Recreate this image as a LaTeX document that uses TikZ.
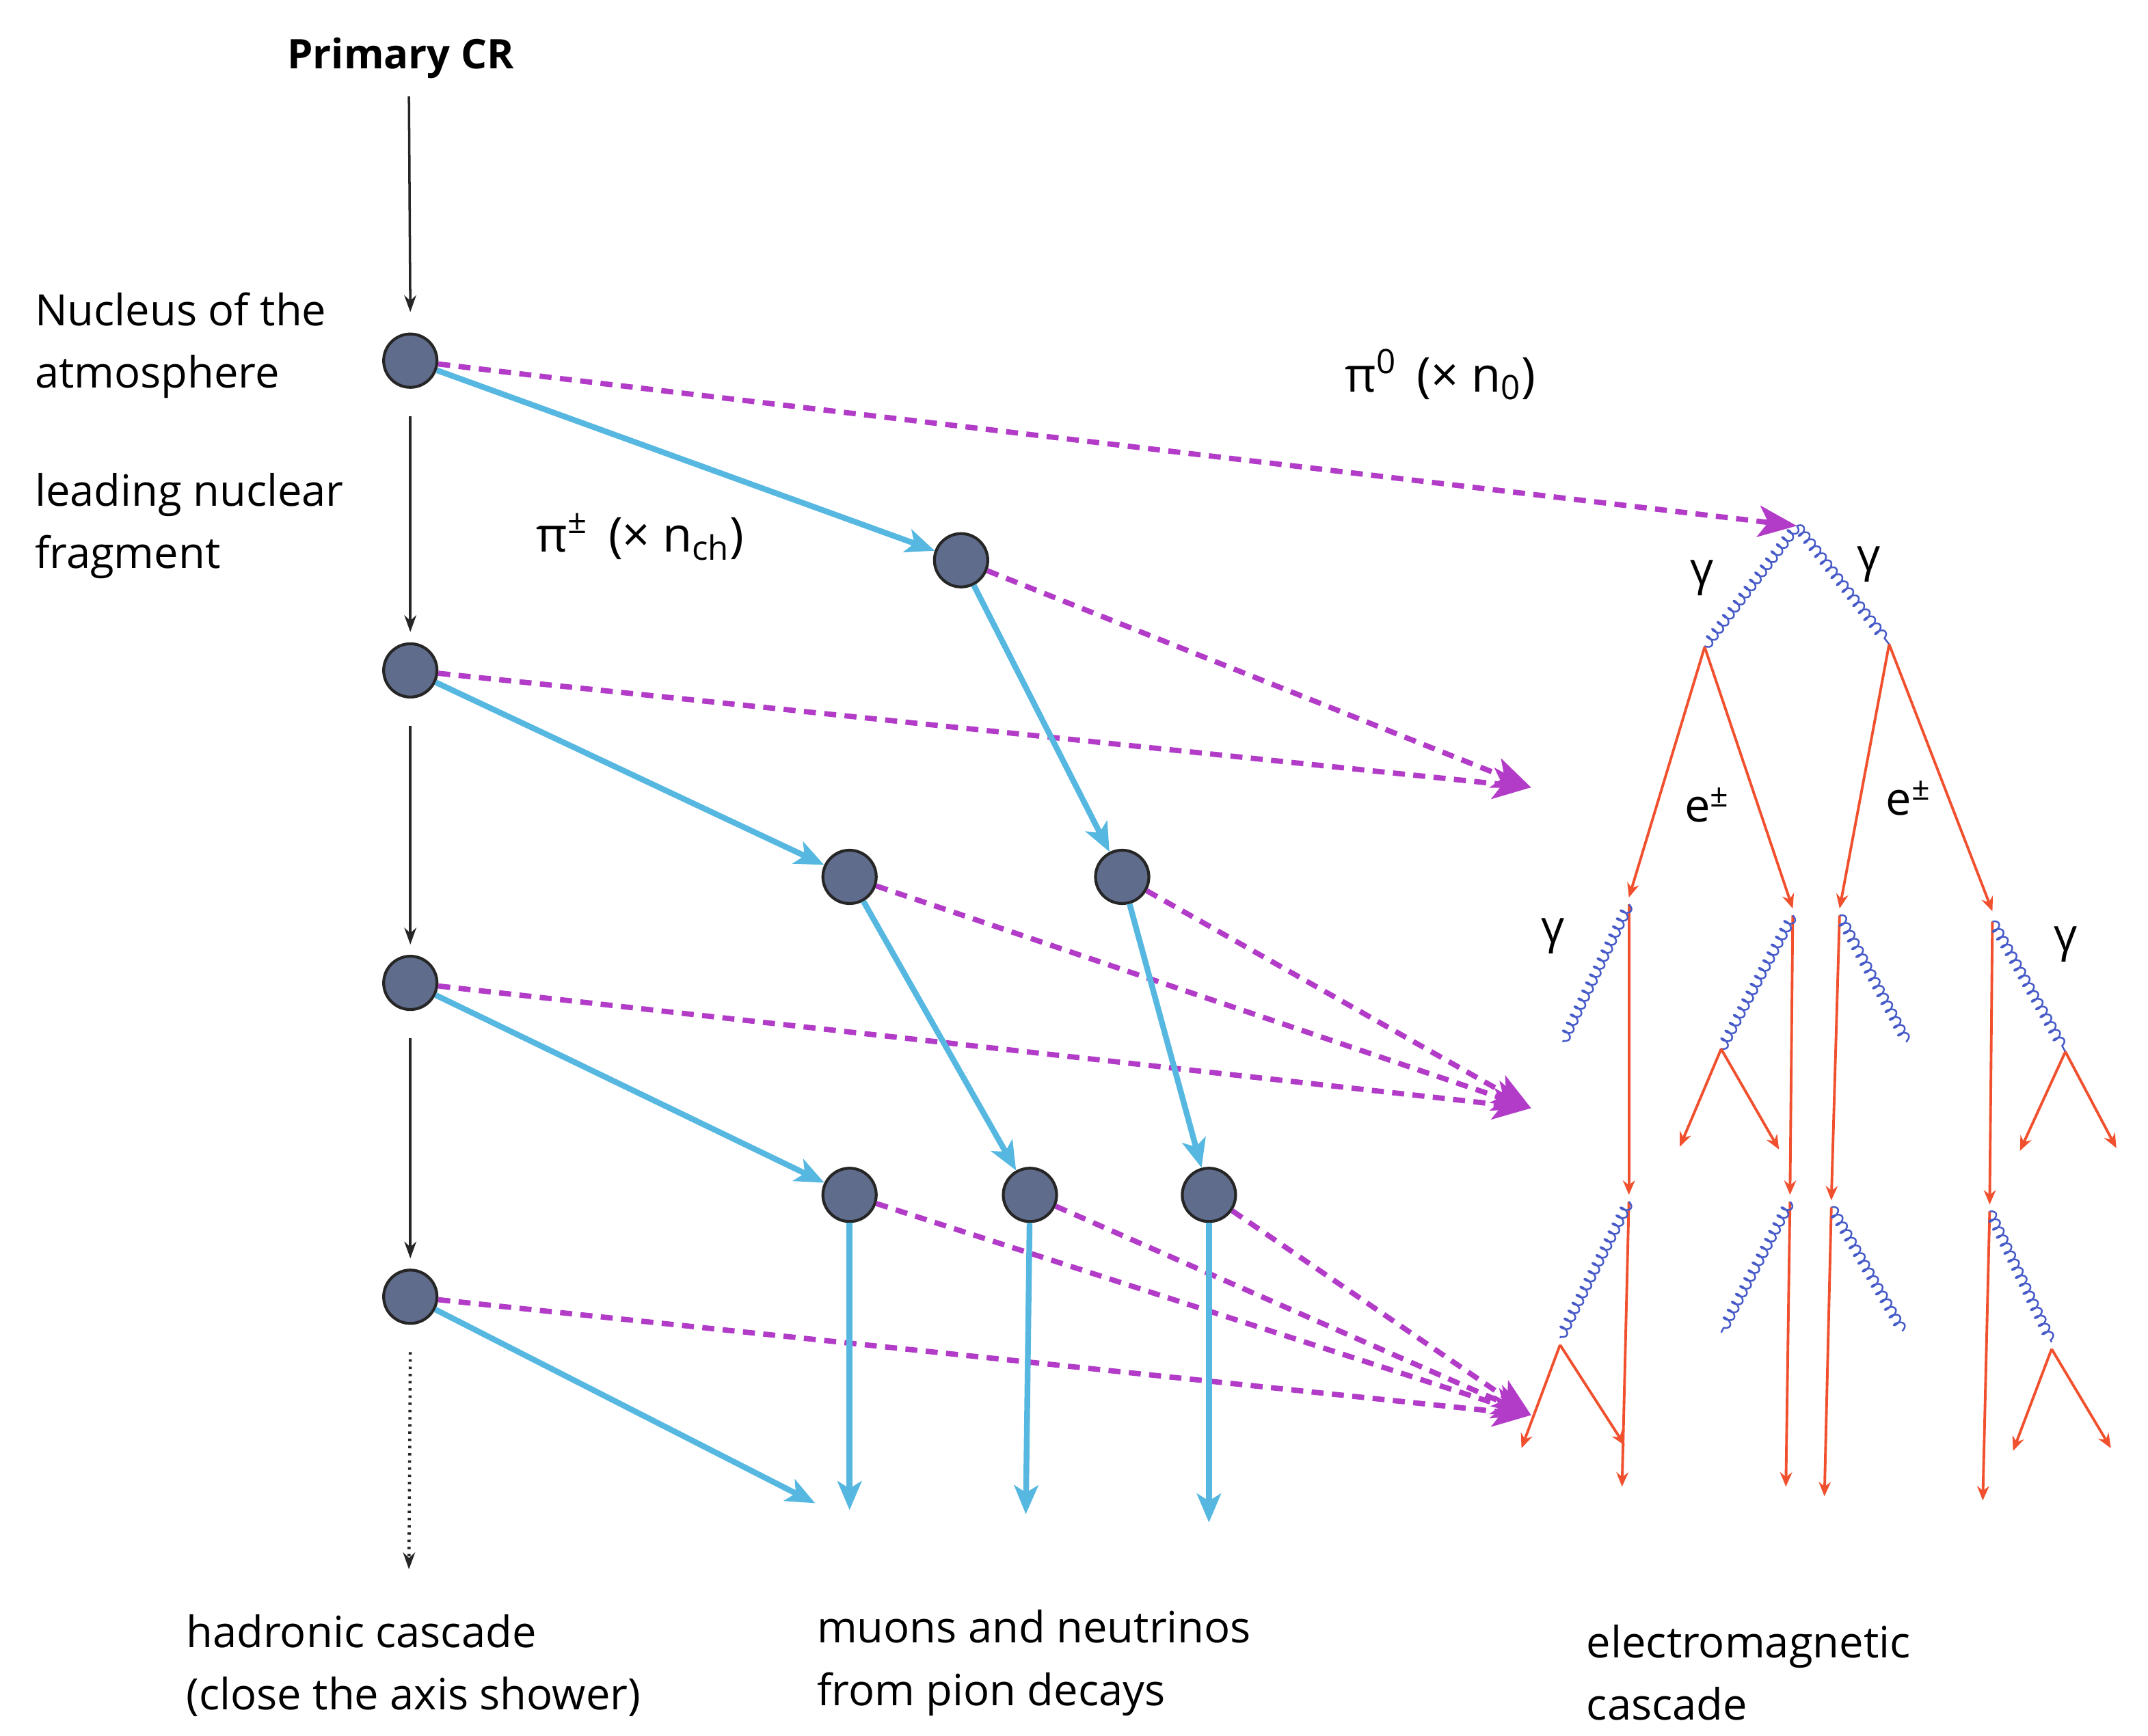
\documentclass[tikz,border=0pt]{standalone}
\usepackage{fontspec}
\setmainfont{Open Sans}
\usetikzlibrary{arrows.meta,decorations.pathmorphing}
\begin{document}
\begin{tikzpicture}[x=0.02014cm,y=-0.02014cm,
  lbl/.style={font=\fontsize{18}{26}\selectfont,align=left,anchor=west,inner sep=0},
  nuc/.style={circle,draw=black!85,line width=1.2pt,fill={rgb,255:red,95;green,108;blue,140},minimum size=0.78cm,inner sep=0},
  blk/.style={-{Stealth[length=7pt,width=5pt]},line width=1pt,black!85},
  pion/.style={-{Stealth[length=12pt,width=10pt,inset=3pt]},line width=2.4pt,color={rgb,255:red,86;green,184;blue,224}},
  pizero/.style={-{Stealth[length=16pt,width=13pt,inset=4pt]},line width=2.2pt,dash pattern=on 5pt off 3.5pt,color={rgb,255:red,178;green,60;blue,200}},
  elec/.style={-{Stealth[length=6pt,width=5pt]},line width=1.1pt,color={rgb,255:red,240;green,80;blue,45}},
  gl/.style={font=\fontsize{19}{20}\selectfont},
  phot/.style={decorate,decoration={coil,aspect=0.5,amplitude=0.7mm,segment length=1.3mm},line width=0.7pt,color={rgb,255:red,70;green,90;blue,200}}]
\useasboundingbox (0,0) rectangle (1560,1261);
% labels
\node[font=\fontsize{17}{19}\selectfont\bfseries] (pcr) at (291,42) {Primary CR};
\node[lbl] (t1) at (25,251) {Nucleus of the\\atmosphere};
\node[lbl] (t2) at (25,382) {leading nuclear\\fragment};
\node[lbl] (t3) at (135,1210) {hadronic cascade\\(close the axis shower)};
\node[lbl] (t4) at (593,1208) {muons and neutrinos\\from pion decays};
\node[lbl] (t5) at (1152,1215) {electromagnetic\\cascade};
\node[font=\fontsize{20}{22}\selectfont] (lpc) at (465,390) {π\textsuperscript{±}\, (× n\textsubscript{ch})};
\node[font=\fontsize{20}{22}\selectfont] (lp0) at (1046,272) {π\textsuperscript{0}\, (× n\textsubscript{0})};
% nuclei
\node[nuc] (L1) at (298,262) {};
\node[nuc] (L2) at (298,487) {};
\node[nuc] (L3) at (298,714) {};
\node[nuc] (L4) at (298,942) {};
\node[nuc] (A) at (698,407) {};
\node[nuc] (B) at (617,637) {};
\node[nuc] (C) at (815,637) {};
\node[nuc] (D) at (617,868) {};
\node[nuc] (E) at (748,868) {};
\node[nuc] (F) at (878,868) {};
% black axis
\coordinate (s0) at (297,70);
\coordinate (e5) at (297,1140);
\draw[blk] (s0) -- ([yshift=0.3cm]L1.north) ;
\draw[blk] ([yshift=-0.4cm]L1.south) -- ([yshift=0.15cm]L2.north);
\draw[blk] ([yshift=-0.4cm]L2.south) -- ([yshift=0.15cm]L3.north);
\draw[blk] ([yshift=-0.4cm]L3.south) -- ([yshift=0.15cm]L4.north);
\draw[blk,dotted,line width=1.3pt] ([yshift=-0.4cm]L4.south) -- (e5);
% pi0 dashed
\coordinate (g0) at (1305,382);
\coordinate (m1) at (1112,572);
\coordinate (m2) at (1112,805);
\coordinate (m3) at (1112,1028);
\draw[pizero] (L1) -- (g0);
\draw[pizero] (A) -- (m1);
\draw[pizero] (L2) -- (m1);
\draw[pizero] (B) -- (m2);
\draw[pizero] (C) -- (m2);
\draw[pizero] (L3) -- (m2);
\draw[pizero] (L4) -- (m3);
\draw[pizero] (D) -- (m3);
\draw[pizero] (E) -- (m3);
\draw[pizero] (F) -- (m3);
% charged pions
\coordinate (q1) at (592,1092);
\coordinate (q2) at (617,1097);
\coordinate (q3) at (745,1100);
\coordinate (q4) at (878,1106);
\draw[pion] (L1) -- (A);
\draw[pion] (A) -- (C);
\draw[pion] (L2) -- (B);
\draw[pion] (B) -- (E);
\draw[pion] (C) -- (F);
\draw[pion] (L3) -- (D);
\draw[pion] (L4) -- (q1);
\draw[pion] (D) -- (q2);
\draw[pion] (E) -- (q3);
\draw[pion] (F) -- (q4);
% EM cascade
\coordinate (v1) at (1238,470);
\coordinate (v2) at (1372,468);
\draw[phot] (g0) -- (v1);
\draw[phot] (g0) -- (v2);
\node[gl] (gl1) at (1236,420) {γ};
\node[gl] (gl2) at (1357,410) {γ};
\node[gl] (el1) at (1240,585) {e\textsuperscript{±}};
\node[gl] (el2) at (1386,580) {e\textsuperscript{±}};
\node[gl] (gl3) at (1128,680) {γ};
\node[gl] (gl4) at (1500,686) {γ};
\coordinate (a1) at (1183,652);
\coordinate (a2) at (1302,660);
\coordinate (a3) at (1336,660);
\coordinate (a4) at (1447,662);
\draw[elec] (v1) -- (a1);
\draw[elec] (v1) -- (a2);
\draw[elec] (v2) -- (a3);
\draw[elec] (v2) -- (a4);
% level 2
\coordinate (b1) at (1183,868);
\coordinate (b2) at (1300,868);
\coordinate (b3) at (1330,872);
\coordinate (b4) at (1445,875);
\draw[elec] ([yshift=-0.1cm]a1) -- (b1);
\draw[elec] ([yshift=-0.1cm]a2) -- (b2);
\draw[elec] ([yshift=-0.1cm]a3) -- (b3);
\draw[elec] ([yshift=-0.15cm]a4) -- (b4);
\coordinate (p1) at (1135,757);
\coordinate (p2) at (1250,762);
\coordinate (p3) at (1385,757);
\coordinate (p4) at (1500,764);
\draw[phot] ([yshift=-0.1cm]a1) -- (p1);
\draw[phot] ([yshift=-0.1cm]a2) -- (p2);
\draw[phot] ([yshift=-0.1cm]a3) -- (p3);
\draw[phot] ([yshift=-0.15cm]a4) -- (p4);
\coordinate (r1) at (1220,833);
\coordinate (r2) at (1292,835);
\coordinate (r3) at (1467,836);
\coordinate (r4) at (1537,834);
\draw[elec] (p2) -- (r1);
\draw[elec] (p2) -- (r2);
\draw[elec] (p4) -- (r3);
\draw[elec] (p4) -- (r4);
% level 3
\coordinate (c1) at (1178,1080);
\coordinate (c2) at (1297,1080);
\coordinate (c3) at (1325,1087);
\coordinate (c4) at (1440,1090);
\draw[elec] ([yshift=-0.1cm]b1) -- (c1);
\draw[elec] ([yshift=-0.1cm]b2) -- (c2);
\draw[elec] ([yshift=-0.1cm]b3) -- (c3);
\draw[elec] ([yshift=-0.1cm]b4) -- (c4);
\coordinate (o1) at (1133,972);
\coordinate (o2) at (1250,968);
\coordinate (o3) at (1382,967);
\coordinate (o4) at (1490,975);
\draw[phot] ([yshift=-0.1cm]b1) -- (o1);
\draw[phot] ([yshift=-0.1cm]b2) -- (o2);
\draw[phot] ([yshift=-0.1cm]b3) -- (o3);
\draw[phot] ([yshift=-0.1cm]b4) -- (o4);
\coordinate (z1) at (1105,1052);
\coordinate (z2) at (1180,1050);
\coordinate (z3) at (1462,1054);
\coordinate (z4) at (1533,1052);
\draw[elec] ([yshift=-0.1cm]o1) -- (z1);
\draw[elec] ([yshift=-0.1cm]o1) -- (z2);
\draw[elec] ([yshift=-0.1cm]o4) -- (z3);
\draw[elec] ([yshift=-0.1cm]o4) -- (z4);
\end{tikzpicture}
\end{document}
